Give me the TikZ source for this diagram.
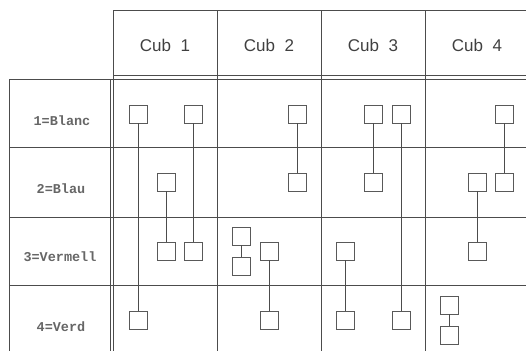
\documentclass[tikz,border=0pt]{standalone}
\usepackage{fontspec}
\setsansfont{Liberation Sans}
\setmonofont{Liberation Mono}
\usepackage{tikz}
\usetikzlibrary{positioning}

\begin{document}
\begin{tikzpicture}[x=1pt,y=-1pt,
    rule/.style={draw=black!70, line width=1pt},
    pc/.style={draw=black!65, fill=white, line width=0.9pt, minimum size=18pt, inner sep=0pt},
    link/.style={draw=black!70, line width=0.9pt},
    cub/.style={font=\sffamily\fontsize{17}{17}\selectfont, text=black!75},
    colour/.style={font=\ttfamily\bfseries\fontsize{13.5}{13.5}\selectfont, text=black!60}]
            \useasboundingbox (0,0) rectangle (526,351);
            % taula
            \draw[rule] (113,10) -- (526,10);
            \draw[rule] (113,75) -- (526,75);
            \draw[rule] (9,79) -- (526,79);
            \draw[rule] (9,147) -- (526,147);
            \draw[rule] (9,217) -- (526,217);
            \draw[rule] (9,285) -- (526,285);
            \draw[rule] (9,79) -- (9,351);
            \draw[rule] (113,10) -- (113,351);
            \draw[rule] (110.5,79) -- (110.5,351);
            \draw[rule] (217,10) -- (217,351);
            \draw[rule] (321,10) -- (321,351);
            \draw[rule] (425,10) -- (425,351);
            % capcaleres
            \node[cub] (h1) at (165,45) {Cub\ \ 1};
            \node[cub] (h2) at (269,45) {Cub\ \ 2};
            \node[cub] (h3) at (373,45) {Cub\ \ 3};
            \node[cub] (h4) at (477,45) {Cub\ \ 4};
            \node[colour] (blanc) at (62,121) {1=Blanc};
            \node[colour] (blau) at (61,189) {2=Blau};
            \node[colour] (vermell) at (60,257) {3=Vermell};
            \node[colour] (verd) at (61,327) {4=Verd};
            % cub 1
            \node[pc] (a1) at (138,114) {};
            \node[pc] (b1) at (193,114) {};
            \node[pc] (c2) at (166,182) {};
            \node[pc] (c3) at (166,251) {};
            \node[pc] (d3) at (193,251) {};
            \node[pc] (a4) at (138,320) {};
            \draw[link] (a1) -- (a4);
            \draw[link] (b1) -- (d3);
            \draw[link] (c2) -- (c3);
            % cub 2
            \node[pc] (e1) at (297,114) {};
            \node[pc] (e2) at (297,182) {};
            \node[pc] (f3) at (241,236) {};
            \node[pc] (g3) at (241,266) {};
            \node[pc] (h3b) at (269,251) {};
            \node[pc] (h4b) at (269,320) {};
            \draw[link] (e1) -- (e2);
            \draw[link] (f3) -- (g3);
            \draw[link] (h3b) -- (h4b);
            % cub 3
            \node[pc] (i1) at (373,114) {};
            \node[pc] (i2) at (373,182) {};
            \node[pc] (j1) at (401,114) {};
            \node[pc] (j4) at (401,320) {};
            \node[pc] (k3) at (345,251) {};
            \node[pc] (k4) at (345,320) {};
            \draw[link] (i1) -- (i2);
            \draw[link] (j1) -- (j4);
            \draw[link] (k3) -- (k4);
            % cub 4
            \node[pc] (l1) at (504,114) {};
            \node[pc] (l2) at (504,182) {};
            \node[pc] (m2) at (477,182) {};
            \node[pc] (m3) at (477,251) {};
            \node[pc] (n4) at (449,305) {};
            \node[pc] (o4) at (449,335) {};
            \draw[link] (l1) -- (l2);
            \draw[link] (m2) -- (m3);
            \draw[link] (n4) -- (o4);
\end{tikzpicture}
\end{document}
